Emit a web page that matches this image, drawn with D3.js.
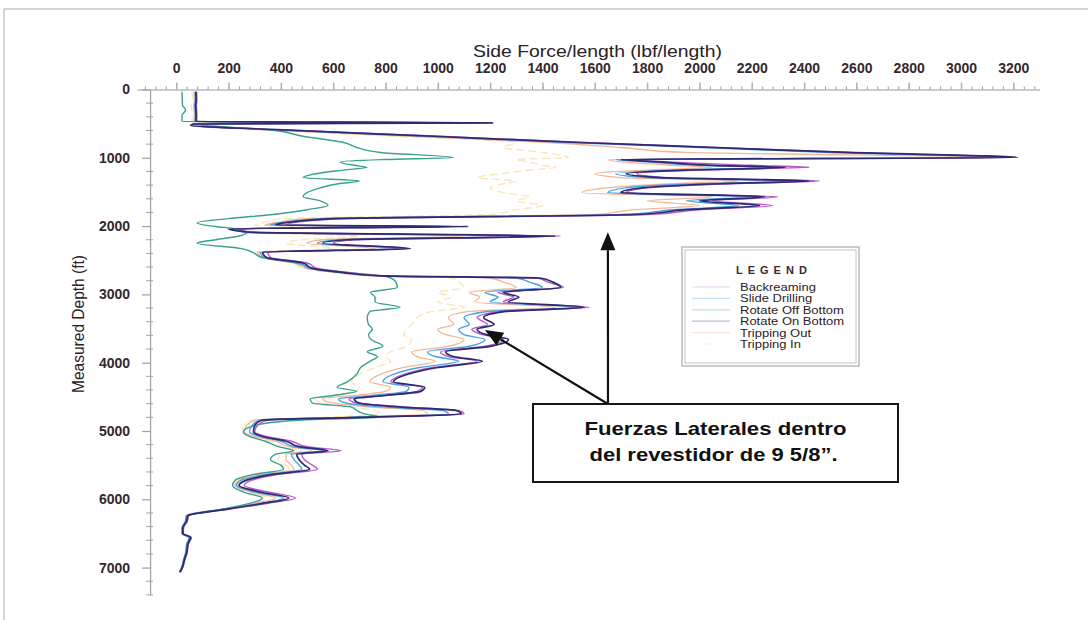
<!DOCTYPE html>
<html>
<head>
<meta charset="utf-8">
<script src="https://cdn.jsdelivr.net/npm/d3@7/dist/d3.min.js"></script>
<style>
  html, body { margin: 0; padding: 0; background: #fff; }
  svg { display: block; font-family: "Liberation Sans", Arial, sans-serif; }
</style>
</head>
<body>
<svg id="chart" width="1088" height="620"></svg>
<script>
// Measured depth stations (ft), shared by every load case
const depthFt = [40,150,230,300,380,470,488,505,527,586,
  688,776,849,922,996,1025,1060,1110,1140,1180,
  1230,1290,1340,1380,1440,1510,1570,1630,1700,1760,
  1830,1890,1950,1985,2005,2040,2090,2145,2200,2250,
  2330,2380,2460,2540,2620,2680,2730,2760,2820,2900,
  2970,3040,3110,3190,3250,3340,3440,3510,3590,3660,
  3760,3840,3910,3980,4070,4170,4280,4360,4420,4480,
  4530,4590,4650,4700,4750,4800,4840,4920,5010,5080,
  5150,5230,5290,5340,5420,5500,5560,5640,5720,5800,
  5900,5980,6060,6140,6240,6320,6420,6500,6560,6650,
  6780,6900,6980,7060];

// Side force per length (lbf/length) for each operation
const backreaming = [78,79,77,78,79,78,1190,72,60,390,
  1030,1560,2070,2580,3180,1750,1880,2200,2420,2000,
  1760,1880,2460,2120,1800,1720,2300,2050,2280,2000,
  1800,650,450,420,1080,230,300,1470,680,600,
  880,350,360,500,540,660,800,1380,1420,1480,
  1230,1290,1250,1580,1240,1150,1190,1130,1170,1250,
  1180,1010,1040,1150,980,870,820,940,920,790,
  660,690,880,1080,1100,720,350,310,300,345,
  440,500,630,480,490,520,540,380,290,260,
  360,455,350,210,48,42,28,27,58,47,
  42,32,27,17];

const slideDrilling = [72,73,71,72,73,72,1150,66,58,350,
  980,1500,2000,2500,3150,1680,1800,2000,2250,1900,
  1680,1800,2350,2000,1720,1650,2200,1950,2150,1900,
  1700,560,400,360,1000,210,270,1400,620,540,
  850,320,340,470,510,630,780,1300,1350,1400,
  1180,1230,1200,1530,1190,1100,1120,1080,1100,1180,
  1120,960,990,1080,930,830,790,890,880,750,
  620,650,800,1020,1040,660,320,290,280,320,
  400,450,560,440,450,470,480,340,250,230,
  310,410,320,195,44,38,24,24,52,43,
  38,29,24,14];

const rotateOffBottom = [22,23,24,36,22,22,480,60,110,340,
  490,640,690,780,1060,800,627,680,730,640,
  540,485,700,620,550,500,485,550,580,500,
  370,200,80,110,150,230,270,240,150,80,
  250,290,330,460,530,650,790,820,840,845,
  742,760,760,856,740,730,735,750,735,745,
  790,730,770,740,705,690,654,615,690,600,
  512,520,670,690,720,780,480,300,256,280,
  340,390,450,380,360,400,410,290,225,215,
  260,330,280,180,38,35,22,22,50,40,
  36,27,22,14];

const rotateOnBottom = [75,76,74,75,76,75,1210,70,55,371,
  1009,1544,2053,2565,3215,1700,1850,2050,2330,1950,
  1720,1850,2420,2080,1780,1700,2250,2000,2230,1950,
  1760,600,420,380,1117,200,280,1450,650,560,
  895,330,345,485,520,640,790,1390,1440,1470,
  1250,1310,1270,1560,1260,1175,1215,1150,1185,1270,
  1200,1030,1060,1170,1000,885,830,950,935,800,
  680,700,860,1070,1090,700,330,300,295,330,
  420,470,580,460,470,490,510,360,270,240,
  330,430,330,200,45,40,25,25,55,45,
  40,30,25,15];

const trippingOut = [68,69,67,68,69,68,520,62,55,330,
  920,1420,1700,1950,3220,1650,1700,1900,2050,1800,
  1600,1700,2150,1900,1650,1550,2050,1800,2000,1750,
  1600,500,380,340,700,250,260,1100,560,500,
  760,310,330,450,500,610,770,1200,1250,1300,
  1120,1160,1140,1450,1120,1040,1060,1000,1030,1100,
  1040,900,920,990,870,780,740,820,800,680,
  560,600,740,940,960,620,300,270,260,300,
  380,430,520,420,420,440,450,320,240,225,
  290,380,300,190,42,37,23,23,50,42,
  37,28,23,13];

const trippingIn = [60,62,58,60,61,60,400,58,55,300,
  850,1300,1250,1400,1500,1300,1350,1400,1450,1350,
  1250,1150,1300,1250,1200,1250,1350,1300,1400,1300,
  1200,420,330,300,450,260,250,700,480,420,
  600,300,320,440,490,600,760,1050,1080,1100,
  1000,1050,1000,1100,980,920,900,880,870,900,
  880,820,800,820,760,700,670,700,690,600,
  530,560,660,760,780,560,290,260,250,290,
  360,410,480,400,390,420,430,300,230,220,
  270,350,290,185,40,36,22,22,48,40,
  36,27,22,12];

const legendLabels = ["Backreaming", "Slide Drilling", "Rotate Off Bottom",
  "Rotate On Bottom", "Tripping Out", "Tripping In"];
const forceTicks = [0,200,400,600,800,1000,1200,1400,1600,1800,2000,2200,2400,2600,2800,3000,3200];
const depthTicks = [0,1000,2000,3000,4000,5000,6000,7000];

// Series styling, keyed by legend label
const seriesStyle = {
  "Tripping In":       { values: trippingIn,      color: "#f3d27e", width: 1.3, dash: "7,5", opacity: 0.55 },
  "Tripping Out":      { values: trippingOut,     color: "#f1a57a", width: 1.3, dash: null,  opacity: 0.8 },
  "Rotate Off Bottom": { values: rotateOffBottom, color: "#2f9c8a", width: 1.4, dash: null,  opacity: 0.95 },
  "Slide Drilling":    { values: slideDrilling,   color: "#3f9ee0", width: 1.4, dash: null,  opacity: 0.95 },
  "Backreaming":       { values: backreaming,     color: "#b24fc6", width: 1.4, dash: null,  opacity: 0.95 },
  "Rotate On Bottom":  { values: rotateOnBottom,  color: "#2c2a70", width: 1.7, dash: null,  opacity: 1 }
};
const drawOrder = ["Tripping In", "Tripping Out", "Rotate Off Bottom", "Slide Drilling", "Backreaming", "Rotate On Bottom"];

const svg = d3.select("#chart");
const textColor = "#34282e";

// Page frame
svg.append("line").attr("x1", 4).attr("y1", 9).attr("x2", 1088).attr("y2", 9)
  .attr("stroke", "#c6c6c6").attr("stroke-width", 1.5);
svg.append("line").attr("x1", 4).attr("y1", 9).attr("x2", 4).attr("y2", 620)
  .attr("stroke", "#c6c6c6").attr("stroke-width", 1.5);

// Scales: force runs along the top, depth increases downward
const x = d3.scaleLinear().domain([-150, 3300]).range([137, 1039.5]);
const y = d3.scaleLinear().domain([0, 7400]).range([89.5, 594.9]);

// Top (force) axis
const xMinor = d3.range(-120, 3300, 40);
const xMinorG = svg.append("g").attr("transform", `translate(0,${y(0)})`)
  .call(d3.axisTop(x).tickValues(xMinor).tickSize(3).tickSizeOuter(0).tickFormat(""));
xMinorG.select(".domain").remove();
xMinorG.selectAll(".tick line").attr("stroke", "#9b9b9b");

const xAxisG = svg.append("g").attr("transform", `translate(0,${y(0)})`)
  .call(d3.axisTop(x).tickValues(forceTicks).tickSize(7).tickSizeOuter(0).tickPadding(10).tickFormat(d3.format("d")));
xAxisG.select(".domain").attr("stroke", "#9a9a9a").attr("stroke-width", 1.2);
xAxisG.selectAll(".tick line").attr("stroke", "#b0b0b0").attr("stroke-width", 1.5);
xAxisG.selectAll(".tick text").attr("fill", textColor)
  .style("font-size", "14px").style("font-weight", "bold")
  .style("font-family", "'Liberation Sans', Arial, sans-serif");

svg.append("text").attr("x", 473).attr("y", 57)
  .attr("textLength", 249).attr("lengthAdjust", "spacingAndGlyphs")
  .attr("fill", "#2a2026").style("font-size", "17px")
  .text("Side Force/length (lbf/length)");

// Left (depth) axis
const yAxisX = x(-100);
const yMinor = d3.range(200, 7401, 200).filter(d => d % 1000 !== 0);
svg.append("g").selectAll("line").data(yMinor).join("line")
  .attr("x1", yAxisX - 4).attr("x2", yAxisX + 3)
  .attr("y1", d => y(d)).attr("y2", d => y(d))
  .attr("stroke", "#a5a5a5").attr("stroke-width", 1);

const yAxisG = svg.append("g").attr("transform", `translate(${yAxisX},0)`)
  .call(d3.axisLeft(y).tickValues(depthTicks).tickSize(8).tickSizeOuter(0).tickPadding(12).tickFormat(d3.format("d")));
yAxisG.select(".domain").attr("stroke", "#a0a0a0").attr("stroke-width", 1.2);
yAxisG.selectAll(".tick line").attr("stroke", "#a5a5a5").attr("stroke-width", 1.3);
yAxisG.selectAll(".tick text").attr("fill", textColor)
  .style("font-size", "14px").style("font-weight", "bold")
  .style("font-family", "'Liberation Sans', Arial, sans-serif");

svg.append("text")
  .attr("transform", "translate(84,324) rotate(-90)")
  .attr("text-anchor", "middle").attr("fill", "#2a2026")
  .attr("textLength", 138).attr("lengthAdjust", "spacingAndGlyphs")
  .style("font-size", "16px")
  .text("Measured Depth (ft)");

// Side-force curves
const line = d3.line()
  .x(p => x(p.v))
  .y(p => y(p.d))
  .curve(d3.curveMonotoneY);

const curves = svg.append("g").attr("fill", "none")
  .attr("stroke-linejoin", "round").attr("stroke-linecap", "round");
drawOrder.forEach(name => {
  const s = seriesStyle[name];
  const pts = depthFt.map((d, i) => ({ d, v: s.values[i] }));
  curves.append("path").datum(pts)
    .attr("d", line)
    .attr("stroke", s.color)
    .attr("stroke-width", s.width)
    .attr("stroke-opacity", s.opacity)
    .attr("stroke-dasharray", s.dash);
});

// Legend
const lg = svg.append("g");
lg.append("rect").attr("x", 682).attr("y", 247).attr("width", 177).attr("height", 119)
  .attr("fill", "#fff").attr("stroke", "#a9a9a9").attr("stroke-width", 1.2);
lg.append("rect").attr("x", 685).attr("y", 250).attr("width", 171).attr("height", 113)
  .attr("fill", "none").attr("stroke", "#c4c4c4").attr("stroke-width", 1);
lg.append("text").attr("x", 736).attr("y", 274)
  .attr("fill", "#3a2d33").style("font-size", "11px").style("font-weight", "bold")
  .style("letter-spacing", "5px").text("LEGEND");
legendLabels.forEach((label, i) => {
  const s = seriesStyle[label];
  const ly = 288 + i * 11.4;
  lg.append("line").attr("x1", 692).attr("x2", 730).attr("y1", ly - 1).attr("y2", ly - 1)
    .attr("stroke", s.color).attr("stroke-opacity", 0.3).attr("stroke-width", 1.2)
    .attr("stroke-dasharray", s.dash);
  const t = lg.append("text").attr("x", 740).attr("y", ly + 3)
    .attr("fill", "#2d2228").style("font-size", "10px")
    .text(label);
  // glyphs in this legend are drawn wide
  t.attr("textLength", t.node().getComputedTextLength() * 1.3)
   .attr("lengthAdjust", "spacingAndGlyphs");
});

// Callout box with arrows pointing at the casing side forces
const callout = { left: 533, top: 404, width: 365, height: 78 };
const arrowBase = [608, callout.top];
const arrowTargets = [
  { force: 1650, depth: 2090 },
  { force: 1180, depth: 3520 }
];
function arrow(from, to) {
  const dx = to[0] - from[0], dy = to[1] - from[1];
  const len = Math.hypot(dx, dy), ux = dx / len, uy = dy / len;
  const headLen = 18, headHalf = 7.5;
  const bx = to[0] - ux * headLen, by = to[1] - uy * headLen;
  svg.append("line").attr("x1", from[0]).attr("y1", from[1]).attr("x2", bx).attr("y2", by)
    .attr("stroke", "#111").attr("stroke-width", 2.2);
  svg.append("path")
    .attr("d", `M${to[0]},${to[1]}L${bx - uy * headHalf},${by + ux * headHalf}L${bx + uy * headHalf},${by - ux * headHalf}Z`)
    .attr("fill", "#111");
}
arrowTargets.forEach(t => arrow(arrowBase, [x(t.force), y(t.depth)]));

svg.append("rect").attr("x", callout.left).attr("y", callout.top)
  .attr("width", callout.width).attr("height", callout.height)
  .attr("fill", "#fff").attr("stroke", "#1a1416").attr("stroke-width", 2);
const cx = callout.left + callout.width / 2;
svg.append("text").attr("x", cx).attr("y", 435).attr("text-anchor", "middle")
  .attr("textLength", 262).attr("lengthAdjust", "spacingAndGlyphs")
  .attr("fill", "#111").style("font-size", "19px").style("font-weight", "bold")
  .text("Fuerzas Laterales dentro");
svg.append("text").attr("x", cx - 2).attr("y", 461).attr("text-anchor", "middle")
  .attr("textLength", 248).attr("lengthAdjust", "spacingAndGlyphs")
  .attr("fill", "#111").style("font-size", "19px").style("font-weight", "bold")
  .text("del revestidor de 9 5/8\u201D.");
</script>
</body>
</html>
